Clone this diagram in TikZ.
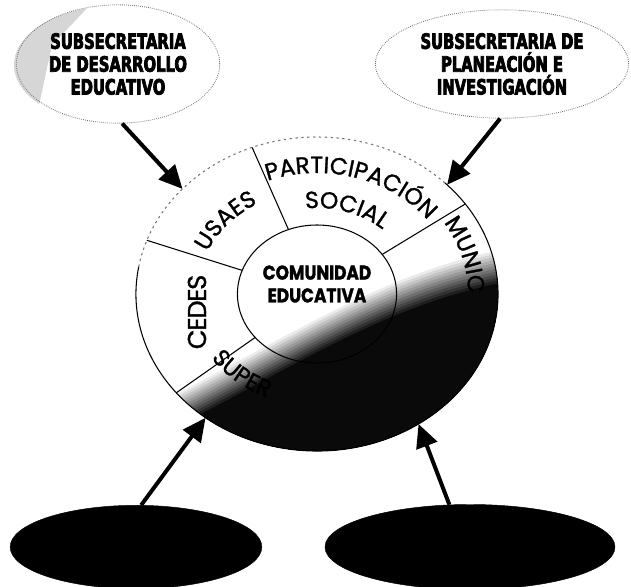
\documentclass[tikz,border=0pt]{standalone}
\usepackage{fontspec}
\setmainfont{Liberation Sans}
\newfontfamily\ringfont{Poppins}[LetterSpace=-5, FakeBold=1.2]
\newfontfamily\hubfont{Poppins}[FakeStretch=0.85, FakeBold=1.5]
\newfontfamily\headfont{DejaVu Sans}[FakeStretch=0.7, FakeBold=3.5]
\usetikzlibrary{arrows.meta,shapes.geometric,decorations.text}
\newcommand\rimsize{\ringfont\fontsize{20}{20}\selectfont}
\tikzset{
  topoval/.style={ellipse, draw=black!55, densely dotted, line width=0.7pt, inner sep=0pt, align=center,
    font=\headfont\bfseries\fontsize{18}{19.5}\selectfont},
  darkoval/.style={ellipse, draw, fill=black, inner sep=0pt},
  rim/.style={ellipse, draw=none, inner sep=0pt, outer sep=0pt},
  pointer/.style={-{Triangle[length=7mm, width=6.5mm]}, line width=3.4pt},
  seg/.style={line width=0.9pt},
  hubtext/.style={align=center, font=\hubfont\bfseries\fontsize{17}{19.5}\selectfont}
}

\begin{document}
\begin{tikzpicture}[x=0.03cm, y=-0.03cm]
  \useasboundingbox (0,0) rectangle (631,587);

  % grey corner of the left oval
  \begin{scope}
    \clip (115,65) ellipse [x radius=101, y radius=59];
    \fill[black!16] (0,0) -- (95,0) -- (52,45) -- (38,110) -- (0,110) -- cycle;
  \end{scope}

  \node[topoval, minimum width=6.1cm, minimum height=3.55cm] (desarrollo) at (118,64)
    {SUBSECRETARIA\\DE DESARROLLO\\EDUCATIVO};
  \node[topoval, minimum width=7.6cm, minimum height=3.25cm] (planeacion) at (502,64)
    {SUBSECRETARIA DE\\PLANEACIÓN E\\INVESTIGACIÓN};

  \node[darkoval, minimum width=7.55cm, minimum height=2.5cm] (baseleft) at (136,547) {};
  \node[darkoval, minimum width=8.7cm, minimum height=2.55cm] (baseright) at (470,547) {};

  \node[rim, minimum width=10.86cm, minimum height=9.42cm] (wheel) at (317,294) {};

  % dark lower half of the wheel
  \begin{scope}
    \clip (317,294) ellipse [x radius=181, y radius=157];
    \foreach \k [evaluate=\k as \g using int(8*\k)] in {0,...,12}
      \fill[black!\g, shift={(0,3*\k)}] (120,420) .. controls (300,330) and (380,268) .. (520,243)
        -- (520,620) -- (120,620) -- cycle;
  \end{scope}

  \begin{scope}[shift={(317,294)}, x=0.03459cm, y=0.03cm]
    \draw[seg] (0,0) circle [radius=69];
    \draw[seg] (170:157) arc [start angle=170, end angle=405, radius=157];
    \draw[seg, black!55, dash pattern=on 2pt off 3pt] (45:157) arc [start angle=45, end angle=170, radius=157];
    \foreach \a in {35,111,160,219}
      \draw[seg] (\a:69) -- (\a:157);

    \path[decorate, decoration={text along path, text align=center, text={|\rimsize|PARTICIPACIÓN}}]
      (115:121) arc [start angle=115, end angle=33, radius=121];
    \path[decorate, decoration={text along path, text align=center, text={|\rimsize|SOCIAL}}]
      (100:86) arc [start angle=100, end angle=45, radius=86];
    \path[decorate, decoration={text along path, text align=center, text={|\rimsize|USAES}}]
      (158:104) arc [start angle=158, end angle=118, radius=104];
    \path[decorate, decoration={text along path, text={|\rimsize|MUNIC}}]
      (33:131) arc [start angle=33, end angle=-25, radius=131];
    \path[decorate, decoration={text along path, text={|\rimsize|SUPER}}]
      (215:112) arc [start angle=215, end angle=265, radius=112];
  \end{scope}

  \node[rotate=90, font=\ringfont\fontsize{22}{22}\selectfont] (cedes) at (197,312) {CEDES};
  \node[hubtext] (hub) at (317,284) {COMUNIDAD\\EDUCATIVA};

  \draw[pointer] (desarrollo.-86) -- (wheel.142);
  \draw[pointer] (planeacion.-92) -- (wheel.40);
  \draw[pointer] (baseleft.83) -- (wheel.228);
  \draw[pointer] (baseright.116) -- (wheel.-52);
\end{tikzpicture}
\end{document}
